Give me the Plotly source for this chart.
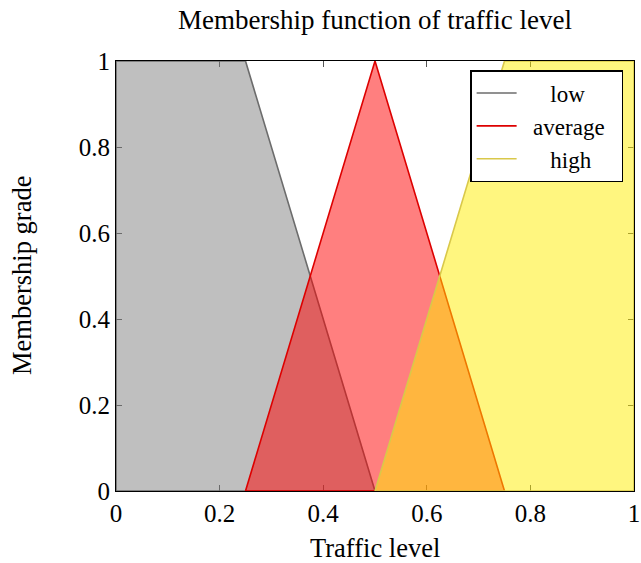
import plotly.graph_objects as go

# Data
low_x = [0, 0, 0.25, 0.5, 0]
low_y = [0, 1, 1, 0, 0]
avg_x = [0.25, 0.5, 0.75, 0.25]
avg_y = [0, 1, 0, 0]
high_x = [0.5, 0.75, 1, 1, 0.5]
high_y = [0, 1, 1, 0, 0]
series_names = ["low", "average", "high"]
tick_vals = [0, 0.2, 0.4, 0.6, 0.8, 1]
tick_text = ["0", "0.2", "0.4", "0.6", "0.8", "1"]

FONT = "Liberation Serif, Times New Roman, serif"
NB = "\u00a0"

line_cols = ["#6c6c6c", "#dd0000", "#d9c84a"]
fill_cols = ["rgba(128,128,128,0.5)", "rgba(255,0,0,0.5)", "rgba(255,238,0,0.5)"]
lead = [5, 2, 5]
trail = [5, 2, 4]
legend_labels = [NB * a + n + NB * b for a, n, b in zip(lead, series_names, trail)]

fig = go.Figure()
for xs, ys, lc, fc in zip([low_x, avg_x, high_x], [low_y, avg_y, high_y],
                          line_cols, fill_cols):
    fig.add_trace(go.Scatter(x=xs, y=ys, mode="lines", fill="toself",
                             fillcolor=fc, line=dict(color=lc, width=1.6),
                             showlegend=False, hoverinfo="skip"))
# legend entries shown as plain lines
for lab, lc in zip(legend_labels, line_cols):
    fig.add_trace(go.Scatter(x=[None], y=[None], mode="lines",
                             line=dict(color=lc, width=1.6), name=lab))

axis_common = dict(
    range=[0, 1], tickvals=tick_vals, ticktext=tick_text,
    showgrid=False, zeroline=False, showline=True, linecolor="black",
    linewidth=1.2, mirror="allticks", ticks="inside", ticklen=6,
    tickcolor="#555", tickwidth=1, layer="below traces", automargin=False,
    tickfont=dict(family=FONT, size=25, color="black"),
)

fig.update_layout(
    width=641, height=563,
    margin=dict(l=116, r=7, t=61, b=72),
    paper_bgcolor="white", plot_bgcolor="white",
    font=dict(family=FONT, size=25, color="black"),
    title=dict(text="Membership function of traffic level", x=0.5, xref="paper",
               xanchor="center", y=1 - 20 / 563, yanchor="middle",
               font=dict(family=FONT, size=27)),
    xaxis=axis_common,
    yaxis=axis_common,
    legend=dict(x=0.979, y=0.979, xanchor="right", yanchor="top",
                bgcolor="white", bordercolor="black", borderwidth=1.5,
                font=dict(family=FONT, size=23), tracegroupgap=0,
                itemwidth=40),
    showlegend=True,
    annotations=[
        dict(text="Traffic level", x=0.5, y=0, xref="paper", yref="paper",
             xanchor="center", yanchor="middle", yshift=-57, showarrow=False,
             font=dict(family=FONT, size=26.5)),
        dict(text="Membership grade", x=0, y=0.5, xref="paper", yref="paper",
             xanchor="center", yanchor="middle", xshift=-94, textangle=-90,
             showarrow=False, font=dict(family=FONT, size=26.5)),
    ],
)

fig.write_html(
    "out.html",
    config={"displayModeBar": False},
    post_script="document.body.style.margin='0';document.body.style.overflow='hidden';",
)
